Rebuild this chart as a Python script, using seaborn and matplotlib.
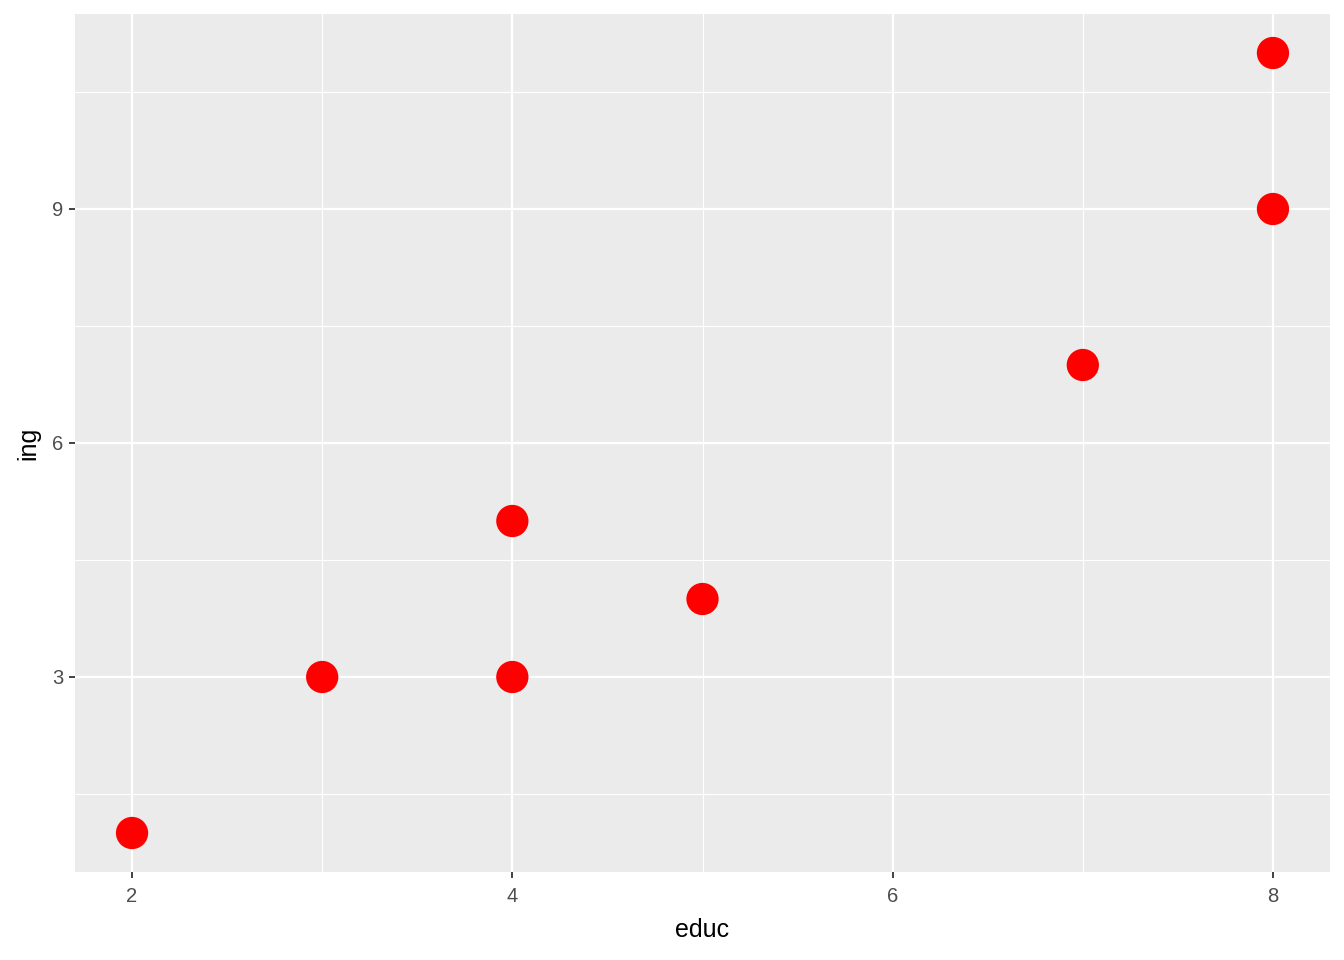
import matplotlib
matplotlib.use("Agg")
import matplotlib.pyplot as plt
from matplotlib.ticker import FixedLocator
import seaborn as sns
import pandas as pd

educ = [2, 3, 4, 4, 5, 7, 8, 8]
ing = [1, 3, 3, 5, 4, 7, 9, 11]
x_ticks = [2, 4, 6, 8]
y_ticks = [3, 6, 9]

df = pd.DataFrame({"educ": educ, "ing": ing})

sns.set_theme(style="darkgrid")
plt.rcParams["font.family"] = ["Liberation Sans", "DejaVu Sans"]

fig = plt.figure(figsize=(13.44, 9.6), dpi=100)
ax = fig.add_axes([75 / 1344, 1 - 872 / 960, (1330 - 75) / 1344, (872 - 14) / 960])
ax.set_facecolor("#EBEBEB")

sns.scatterplot(data=df, x="educ", y="ing", ax=ax, color="#FF0000", s=540,
                edgecolor="none", linewidth=0, zorder=3)

ax.set_xlim(1.7, 8.3)
ax.set_ylim(0.5, 11.5)
ax.xaxis.set_major_locator(FixedLocator(x_ticks))
ax.yaxis.set_major_locator(FixedLocator(y_ticks))
ax.xaxis.set_minor_locator(FixedLocator([3, 5, 7]))
ax.yaxis.set_minor_locator(FixedLocator([1.5, 4.5, 7.5, 10.5]))
ax.set_xticklabels([str(v) for v in x_ticks])
ax.set_yticklabels([str(v) for v in y_ticks])

ax.grid(which="major", color="white", linewidth=1.6)
ax.grid(which="minor", color="white", linewidth=0.8)
ax.set_axisbelow(True)
for s in ax.spines.values():
    s.set_visible(False)

ax.tick_params(axis="x", which="major", bottom=True, length=4.5, width=1.3,
               color="#333333", labelsize=14.5, labelcolor="#4D4D4D", pad=6)
ax.tick_params(axis="y", which="major", left=True, length=4.5, width=1.3,
               color="#333333", labelsize=14.5, labelcolor="#4D4D4D", pad=4)
ax.tick_params(axis="both", which="minor", bottom=False, left=False, length=0)

ax.set_xlabel("educ", fontsize=18, color="black", labelpad=9)
ax.set_ylabel("ing", fontsize=18, color="black", labelpad=8)

fig.savefig("out.png", dpi=100)
